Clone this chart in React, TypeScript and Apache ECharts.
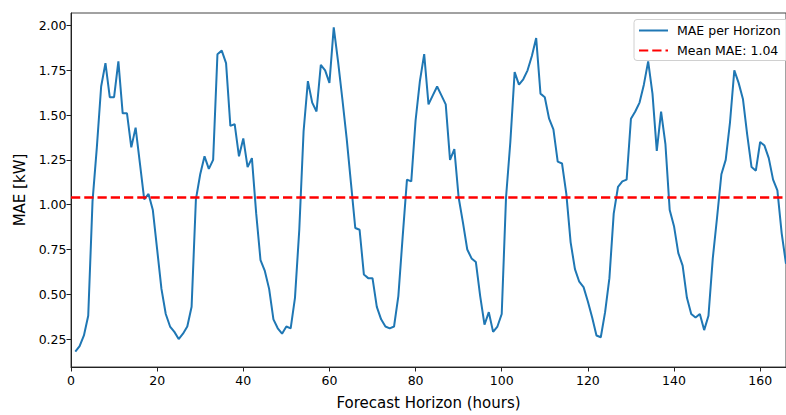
import React, { useEffect, useRef } from "react";
import * as echarts from "echarts";

const hours: number[] = Array.from({ length: 166 }, (_, i) => i + 1);

const maeValues: number[] = [
  0.18, 0.21, 0.27, 0.38, 1.02, 1.32, 1.66, 1.79, 1.60, 1.60,
  1.80, 1.51, 1.51, 1.32, 1.43, 1.23, 1.03, 1.06, 0.97, 0.75,
  0.53, 0.39, 0.32, 0.29, 0.25, 0.28, 0.32, 0.43, 1.03, 1.17,
  1.27, 1.20, 1.25, 1.84, 1.86, 1.79, 1.44, 1.45, 1.27, 1.37,
  1.21, 1.26, 0.95, 0.69, 0.63, 0.53, 0.36, 0.31, 0.28, 0.32,
  0.31, 0.48, 0.86, 1.41, 1.69, 1.57, 1.52, 1.78, 1.75, 1.68,
  1.99, 1.80, 1.59, 1.37, 1.12, 0.87, 0.86, 0.61, 0.59, 0.59,
  0.43, 0.36, 0.32, 0.31, 0.32, 0.49, 0.82, 1.14, 1.13, 1.47,
  1.69, 1.84, 1.56, 1.61, 1.66, 1.61, 1.56, 1.25, 1.31, 1.04,
  0.90, 0.75, 0.70, 0.68, 0.49, 0.33, 0.40, 0.29, 0.32, 0.39,
  1.04, 1.35, 1.74, 1.67, 1.70, 1.75, 1.83, 1.93, 1.62, 1.60,
  1.48, 1.42, 1.24, 1.23, 1.06, 0.79, 0.64, 0.57, 0.54, 0.46,
  0.37, 0.27, 0.26, 0.40, 0.59, 0.95, 1.10, 1.13, 1.14, 1.48,
  1.52, 1.57, 1.67, 1.80, 1.62, 1.30, 1.52, 1.34, 0.97, 0.88,
  0.73, 0.66, 0.48, 0.39, 0.37, 0.39, 0.30, 0.38, 0.70, 0.93,
  1.17, 1.25, 1.46, 1.75, 1.68, 1.59, 1.39, 1.21, 1.19, 1.35,
  1.33, 1.26, 1.14, 1.08, 0.84, 0.67,
];

const meanMAE = 1.04;
const seriesNames: string[] = ["MAE per Horizon", "Mean MAE: 1.04"];
const yTicks: number[] = [0.25, 0.5, 0.75, 1.0, 1.25, 1.5, 1.75, 2.0];
const xTicks: number[] = [0, 20, 40, 60, 80, 100, 120, 140, 160];
const xRange: number[] = [0, 166];
const yRange: number[] = [0.094, 2.07];

const FONT = "DejaVu Sans";

export default function App() {
  const ref = useRef<HTMLDivElement | null>(null);

  useEffect(() => {
    document.body.style.margin = "0";
    if (!ref.current) return;
    const chart = echarts.init(ref.current, undefined, { renderer: "svg" });
    const axisColor = "#222";
    chart.setOption({
      animation: false,
      backgroundColor: "#ffffff",
      textStyle: { fontFamily: FONT },
      grid: {
        left: 71,
        top: 13,
        bottom: 42,
        right: -1,
        show: true,
        borderColor: "#444",
        borderWidth: 1,
        backgroundColor: "transparent",
      },
      graphic: [
        {
          type: "rect",
          z: 3,
          silent: true,
          shape: { x: 634, y: 19.5, width: 170, height: 41, r: 3 },
          style: { fill: "rgba(255,255,255,0.8)", stroke: "#d0d0d0", lineWidth: 1 },
        },
      ],
      legend: {
        orient: "vertical",
        left: 634,
        top: 19,
        itemWidth: 29,
        itemHeight: 12,
        itemGap: 7,
        padding: [5, 14, 4, 4],
        backgroundColor: "transparent",
        borderWidth: 0,
        itemStyle: { opacity: 0 },
        textStyle: {
          fontFamily: FONT,
          fontSize: 12.5,
          color: "#000",
          padding: [0, 0, 0, 4],
        },
        data: seriesNames,
      },
      xAxis: {
        type: "value",
        min: xRange[0],
        max: xRange[1],
        name: "Forecast Horizon (hours)",
        nameLocation: "middle",
        nameGap: 28,
        nameTextStyle: { fontFamily: FONT, fontSize: 15, color: "#000" },
        splitLine: { show: false },
        axisLine: { show: true, onZero: false, lineStyle: { color: axisColor, width: 1 } },
        axisTick: {
          show: true,
          inside: false,
          length: 4.5,
          lineStyle: { color: axisColor, width: 1 },
          customValues: xTicks,
        },
        axisLabel: {
          show: true,
          margin: 7,
          fontFamily: FONT,
          fontSize: 12.5,
          color: "#000",
          customValues: xTicks,
          formatter: (v: number) => String(v),
        },
      },
      yAxis: {
        type: "value",
        min: yRange[0],
        max: yRange[1],
        name: "MAE [kW]",
        nameLocation: "middle",
        nameRotate: 90,
        nameGap: 42,
        nameTextStyle: { fontFamily: FONT, fontSize: 15, color: "#000" },
        splitLine: { show: false },
        axisLine: { show: true, lineStyle: { color: axisColor, width: 1 } },
        axisTick: {
          show: true,
          inside: false,
          length: 4.5,
          lineStyle: { color: axisColor, width: 1 },
          customValues: yTicks,
        },
        axisLabel: {
          show: true,
          margin: 4.5,
          fontFamily: FONT,
          fontSize: 12.5,
          color: "#000",
          customValues: yTicks,
          formatter: (v: number) => v.toFixed(2),
        },
      },
      series: [
        {
          name: seriesNames[0],
          type: "line",
          data: hours.map((h, i) => [h, maeValues[i]]),
          showSymbol: false,
          symbol: "none",
          lineStyle: { color: "#1f77b4", width: 2 },
          itemStyle: { color: "#1f77b4" },
          clip: true,
          z: 2,
        },
        {
          name: seriesNames[1],
          type: "line",
          data: [
            [xRange[0], meanMAE],
            [xRange[1], meanMAE],
          ],
          showSymbol: false,
          symbol: "none",
          lineStyle: { color: "#ff0000", width: 2.5, type: [9.25, 4] },
          itemStyle: { color: "#ff0000" },
          z: 3,
        },
      ],
    });
    return () => chart.dispose();
  }, []);

  return <div ref={ref} style={{ width: 786, height: 415 }} />;
}
